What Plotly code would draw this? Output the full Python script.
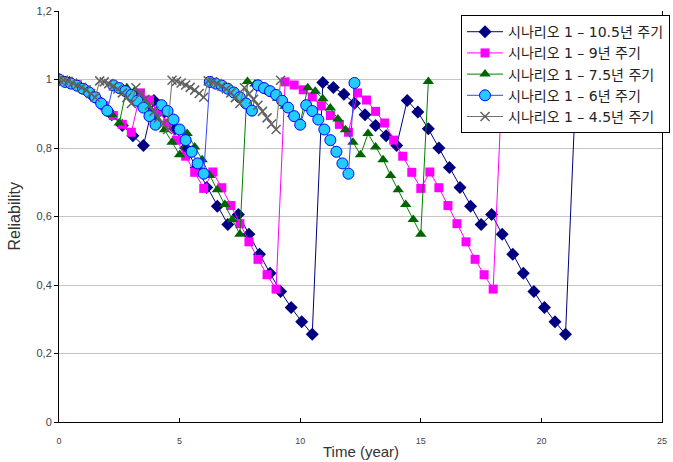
import plotly.graph_objects as go

# ---- data ----
names = ["시나리오 1 – 10.5년 주기", "시나리오 1 – 9년 주기", "시나리오 1 – 7.5년 주기",
         "시나리오 1 – 6년 주기", "시나리오 1 – 4.5년 주기"]
time_steps = [0.4375, 0.375, 0.3125, 0.25, 0.1875]   # years between points

rel_105 = [1.000,
           0.991, 0.977, 0.957, 0.931, 0.897, 0.866, 0.836, 0.807,
           0.939, 0.905, 0.856, 0.800, 0.743, 0.685, 0.630, 0.577,
           0.606, 0.548, 0.490, 0.434, 0.381, 0.334, 0.293, 0.256,
           0.991, 0.977, 0.957, 0.931, 0.897, 0.866, 0.836, 0.807,
           0.939, 0.905, 0.856, 0.800, 0.743, 0.685, 0.630, 0.577,
           0.606, 0.548, 0.490, 0.434, 0.381, 0.334, 0.293, 0.256,
           0.991]
rel_9 = [1.000,
         0.993, 0.984, 0.970, 0.949, 0.923, 0.895, 0.869, 0.846,
         0.961, 0.940, 0.907, 0.873, 0.823, 0.776, 0.729, 0.682,
         0.730, 0.684, 0.632, 0.579, 0.526, 0.475, 0.430, 0.388,
         0.993, 0.984, 0.970, 0.949, 0.923, 0.895, 0.869, 0.846,
         0.961, 0.940, 0.907, 0.873, 0.823, 0.776, 0.729, 0.682,
         0.730, 0.684, 0.632, 0.579, 0.526, 0.475, 0.430, 0.388,
         0.993]
rel_75 = [1.000,
          0.994, 0.987, 0.977, 0.963, 0.945, 0.922, 0.898, 0.873,
          0.976, 0.966, 0.944, 0.917, 0.885, 0.853, 0.817, 0.780,
          0.842, 0.803, 0.766, 0.720, 0.678, 0.635, 0.591, 0.548,
          0.994, 0.987, 0.977, 0.963, 0.945, 0.922, 0.898, 0.873,
          0.976, 0.966, 0.944, 0.917, 0.885, 0.853, 0.817, 0.780,
          0.842, 0.803, 0.766, 0.720, 0.678, 0.635, 0.591, 0.548,
          0.994]
rel_6 = [1.000,
         0.993, 0.988, 0.982, 0.973, 0.962, 0.948, 0.930, 0.909,
         0.983, 0.975, 0.966, 0.955, 0.938, 0.918, 0.893, 0.868,
         0.925, 0.908, 0.883, 0.854, 0.823, 0.789, 0.755, 0.725,
         0.993, 0.988, 0.982, 0.973, 0.962, 0.948, 0.930, 0.909,
         0.983, 0.975, 0.966, 0.955, 0.938, 0.918, 0.893, 0.868,
         0.925, 0.908, 0.883, 0.854, 0.823, 0.789, 0.755, 0.725,
         0.990]
rel_45 = [1.000,
          0.998, 0.995, 0.990, 0.984, 0.977, 0.969, 0.959, 0.948,
          0.996, 0.993, 0.988, 0.981, 0.972, 0.961, 0.947, 0.930,
          0.976, 0.958, 0.942, 0.925, 0.907, 0.888, 0.870, 0.854,
          0.998, 0.995, 0.990, 0.984, 0.977, 0.969, 0.959, 0.948,
          0.996, 0.993, 0.988, 0.981, 0.972, 0.961, 0.947, 0.930,
          0.976, 0.958, 0.942, 0.925, 0.907, 0.888, 0.870, 0.854,
          0.998]
series = [rel_105, rel_9, rel_75, rel_6, rel_45]

x_ticks = [0, 5, 10, 15, 20, 25]
y_ticks = [0, 0.2, 0.4, 0.6, 0.8, 1.0, 1.2]
y_tick_text = ["0", "0,2", "0,4", "0,6", "0,8", "1", "1,2"]

# ---- styles ----
styles = [
    dict(line=dict(color="#000080", width=1),
         marker=dict(symbol="diamond", size=10, color="#000080")),
    dict(line=dict(color="#FF00FF", width=1),
         marker=dict(symbol="square", size=9, color="#FF00FF")),
    dict(line=dict(color="#008000", width=1),
         marker=dict(symbol="triangle-up", size=10, color="#006400")),
    dict(line=dict(color="#3344FF", width=1),
         marker=dict(symbol="circle", size=11, color="#22CCFF",
                     line=dict(color="#0000FF", width=1))),
    dict(line=dict(color="#707070", width=1),
         marker=dict(symbol="x-thin", size=9, color="#606060",
                     line=dict(color="#606060", width=1.5))),
]

fig = go.Figure()
for name, vals, step, st in zip(names, series, time_steps, styles):
    t = [i * step for i in range(len(vals))]
    fig.add_trace(go.Scatter(x=t, y=vals, name=name, mode="lines+markers",
                             line=st["line"], marker=st["marker"]))

fig.update_layout(
    width=673, height=462,
    margin=dict(l=59, r=11, t=11, b=40, autoexpand=False),
    paper_bgcolor="white", plot_bgcolor="white",
    font=dict(family="Liberation Sans, Arial, sans-serif", color="#333333"),
    showlegend=True,
    legend=dict(x=1.0133, xanchor="right", y=0.99, yanchor="top",
                bgcolor="white", bordercolor="black", borderwidth=1,
                font=dict(family="DejaVu Sans, Noto Sans CJK KR", size=14, color="#222222"),
                itemwidth=36, tracegroupgap=0),
    xaxis=dict(range=[0, 25], tickvals=x_ticks, showgrid=False, zeroline=False,
               showline=True, linecolor="black", linewidth=1,
               ticks="inside", ticklen=4, tickcolor="black", automargin=False,
               tickfont=dict(size=9, color="#444444"), ticklabelstandoff=10),
    yaxis=dict(range=[0, 1.2], tickvals=y_ticks, ticktext=y_tick_text,
               showgrid=True, gridcolor="#c4c4c4", gridwidth=1, zeroline=False,
               showline=True, mirror=True, linecolor="black", linewidth=1,
               ticks="outside", ticklen=4, tickcolor="black", automargin=False,
               tickfont=dict(size=11, color="#444444")),
    annotations=[
        dict(text="Time (year)", xref="paper", yref="paper", x=0.5, y=-0.0965,
             xanchor="center", yanchor="bottom", showarrow=False,
             font=dict(size=15, color="#333333")),
        dict(text="Reliability", xref="paper", yref="paper", x=-0.073, y=0.5,
             xanchor="center", yanchor="middle", textangle=-90, showarrow=False,
             font=dict(size=16, color="#333333")),
    ],
)

fig.write_html("out.html")
